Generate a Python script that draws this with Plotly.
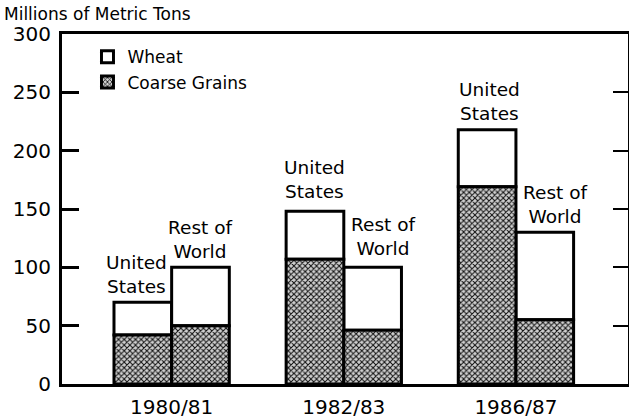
import plotly.graph_objects as go

years = ["1980/81", "1982/83", "1986/87"]
us_coarse = [42, 107, 169]
us_wheat = [28, 41, 49]
row_coarse = [50, 46, 55]
row_wheat = [50, 54, 75]
y_ticks = [0, 50, 100, 150, 200, 250, 300]

FONT = "DejaVu Sans"
bar_line = dict(color="black", width=3)
pattern = dict(shape="x", size=4, solidity=0.45, fgcolor="#111111", bgcolor="#d0d0d0", fillmode="replace")

fig = go.Figure()
# Wheat (top segments)
fig.add_trace(go.Bar(x=years, y=us_wheat, base=us_coarse, offsetgroup="us", name="Wheat",
                     legendgroup="w", showlegend=True,
                     marker=dict(color="white", line=bar_line)))
fig.add_trace(go.Bar(x=years, y=row_wheat, base=row_coarse, offsetgroup="row", name="Wheat",
                     legendgroup="w", showlegend=False,
                     marker=dict(color="white", line=bar_line)))
# Coarse grains (bottom segments)
fig.add_trace(go.Bar(x=years, y=us_coarse, offsetgroup="us", name="Coarse Grains",
                     legendgroup="c", showlegend=True,
                     marker=dict(color="#d0d0d0", line=bar_line, pattern=pattern)))
fig.add_trace(go.Bar(x=years, y=row_coarse, offsetgroup="row", name="Coarse Grains",
                     legendgroup="c", showlegend=False,
                     marker=dict(color="#d0d0d0", line=bar_line, pattern=pattern)))
# invisible trace for right-hand axis
fig.add_trace(go.Scatter(x=[years[0]], y=[0], yaxis="y2", mode="markers",
                         marker=dict(opacity=0), showlegend=False, hoverinfo="skip"))

bargap = 0.33
half = (1 - bargap) / 4  # half of one bar width, in category units
ann = []
lab_font = dict(family=FONT, size=18.5, color="black")
specs = [
    # (group index, which, text, xshift, yshift)
    (0, "us", "United<br>States", -6, 3),
    (0, "row", "Rest of<br>World", 0, 3),
    (1, "us", "United<br>States", 0, 7),
    (1, "row", "Rest of<br>World", 10, 6),
    (2, "us", "United<br>States", 2, 4),
    (2, "row", "Rest of<br>World", 10, 3),
]
for i, which, txt, xs, ys in specs:
    if which == "us":
        xv = i - half
        yv = us_coarse[i] + us_wheat[i]
    else:
        xv = i + half
        yv = row_coarse[i] + row_wheat[i]
    ann.append(dict(x=xv, y=yv, xref="x", yref="y", text=txt, showarrow=False,
                    xanchor="center", yanchor="bottom", xshift=xs, yshift=ys,
                    font=lab_font, align="center"))
ann.append(dict(x=0, y=1, xref="paper", yref="paper", xshift=-60, yshift=8,
                text="Millions of Metric Tons", showarrow=False, xanchor="left",
                yanchor="bottom", font=dict(family=FONT, size=17, color="black")))

fig.update_layout(
    width=629, height=420,
    margin=dict(l=62, r=1, t=34, b=36, pad=0, autoexpand=False),
    paper_bgcolor="white", plot_bgcolor="white",
    barmode="group", bargap=bargap, bargroupgap=0,
    font=dict(family=FONT, color="black"),
    annotations=ann,
    legend=dict(x=0.045, y=0.985, xanchor="left", yanchor="top",
                font=dict(family=FONT, size=17, color="black"),
                bgcolor="rgba(0,0,0,0)", traceorder="normal",
                itemwidth=30, tracegroupgap=0),
    xaxis=dict(type="category", range=[-0.637, 2.651], showline=True, linewidth=3,
               linecolor="black", mirror=True, ticks="", showgrid=False, automargin=False,
               tickfont=dict(family=FONT, size=20, color="black"), ticklabelstandoff=3),
    yaxis=dict(range=[0, 300], tickvals=y_ticks, ticks="inside", ticklen=17, tickwidth=3,
               tickcolor="black", showline=True, linewidth=3, linecolor="black",
               showgrid=False, zeroline=False, automargin=False,
               tickfont=dict(family=FONT, size=20, color="black"), ticklabelstandoff=4),
    yaxis2=dict(range=[0, 300], tickvals=y_ticks, overlaying="y", side="right",
                ticks="inside", ticklen=15, tickwidth=2, tickcolor="black",
                showline=True, linewidth=2, linecolor="black", showgrid=False,
                zeroline=False, showticklabels=False, automargin=False),
    showlegend=True,
)

fig.write_html("out.html", config={"displayModeBar": False},
               post_script="document.body.style.margin='0';document.body.style.overflow='hidden';")
